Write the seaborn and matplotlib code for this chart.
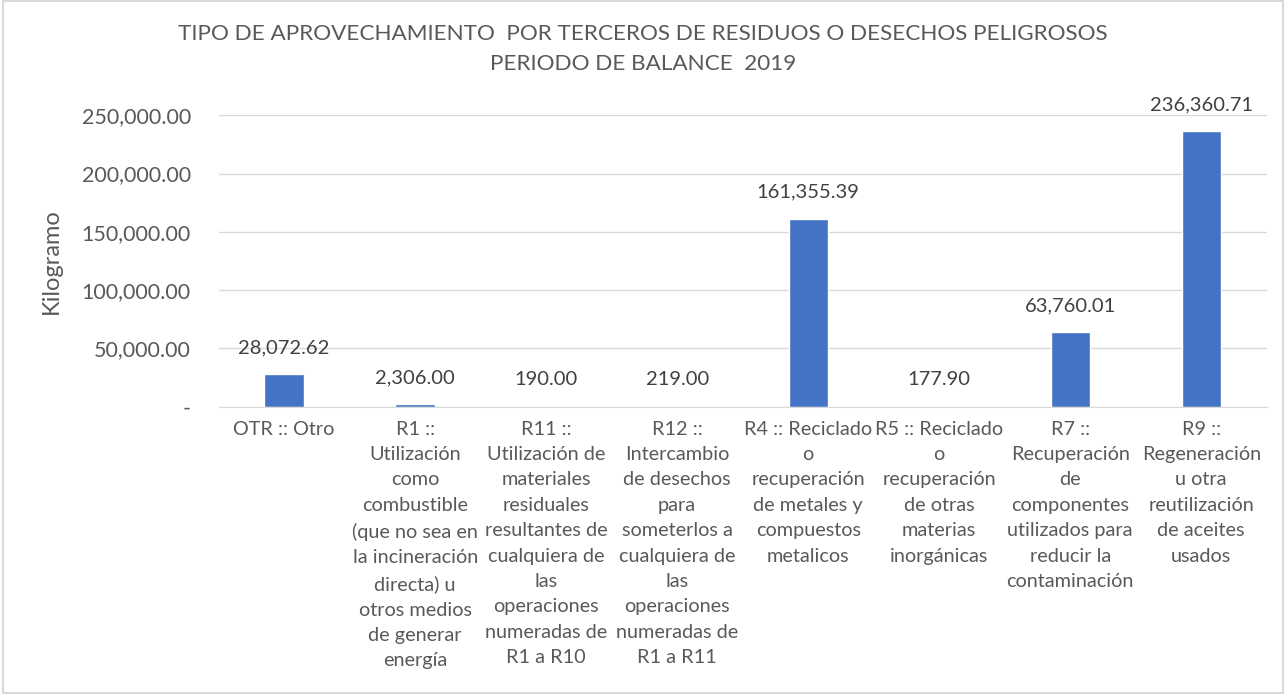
import matplotlib
matplotlib.use('Agg')
import matplotlib.pyplot as plt
import seaborn as sns
import pandas as pd
from matplotlib.ticker import FuncFormatter

# datos del grafico
categorias = [
    'OTR :: Otro',
    'R1 ::\nUtilización\ncomo\ncombustible\n(que no sea en\nla incineración\ndirecta) u\notros medios\nde generar\nenergía',
    'R11 ::\nUtilización de\nmateriales\nresiduales\nresultantes de\ncualquiera de\nlas\noperaciones\nnumeradas de\nR1 a R10',
    'R12 ::\nIntercambio\nde desechos\npara\nsometerlos a\ncualquiera de\nlas\noperaciones\nnumeradas de\nR1 a R11',
    'R4 :: Reciclado\no\nrecuperación\nde metales y\ncompuestos\nmetalicos',
    'R5 :: Reciclado\no\nrecuperación\nde otras\nmaterias\ninorgánicas',
    'R7 ::\nRecuperación\nde\ncomponentes\nutilizados para\nreducir la\ncontaminación',
    'R9 ::\nRegeneración\nu otra\nreutilización\nde aceites\nusados',
]
kilogramos = [28072.62, 2306.00, 190.00, 219.00, 161355.39, 177.90, 63760.01, 236360.71]

titulo = 'TIPO DE APROVECHAMIENTO  POR TERCEROS DE RESIDUOS O DESECHOS PELIGROSOS\nPERIODO DE BALANCE  2019'

df = pd.DataFrame({'categoria': categorias, 'kg': kilogramos})

sns.set_style('white')
plt.rcParams['font.family'] = ['Lato', 'DejaVu Sans']
gris = '#595959'

fig = plt.figure(figsize=(12.86, 6.94), dpi=100)
ax = fig.add_axes([0.170, 0.414, 0.815, 0.420])

sns.barplot(data=df, x='categoria', y='kg', color='#4472C4', width=0.3,
            saturation=1, ax=ax)

ax.set_ylim(0, 250000)
ax.set_yticks(range(0, 250001, 50000))
ax.yaxis.set_major_formatter(FuncFormatter(lambda v, p: '-' if v == 0 else f'{v:,.2f}'))
ax.grid(axis='y', color='#D9D9D9', linewidth=1)
ax.set_axisbelow(True)
for s in ['top', 'right', 'left']:
    ax.spines[s].set_visible(False)
ax.spines['bottom'].set_color('#D9D9D9')
ax.tick_params(axis='y', length=0, labelsize=15.5, labelcolor=gris, pad=20)
ax.tick_params(axis='x', length=0, labelsize=14.3, labelcolor=gris, pad=10)
for lbl in ax.get_xticklabels():
    lbl.set_verticalalignment('top')
    lbl.set_horizontalalignment('center')
    lbl.set_linespacing(1.6)

ax.set_xlabel('')
ax.set_ylabel('Kilogramo', fontsize=17, color=gris, labelpad=14)

for cont in ax.containers:
    ax.bar_label(cont, labels=[f'{v:,.2f}' for v in kilogramos], padding=13,
                 fontsize=14.5, color='#404040')

fig.suptitle(titulo, y=0.965, fontsize=16.2, color=gris, linespacing=1.62)

fig.patches.append(plt.Rectangle((0.002, 0.002), 0.996, 0.996, transform=fig.transFigure,
                                 fill=False, edgecolor='#D9D9D9', linewidth=1.5))

fig.savefig('out.png', dpi=100)
